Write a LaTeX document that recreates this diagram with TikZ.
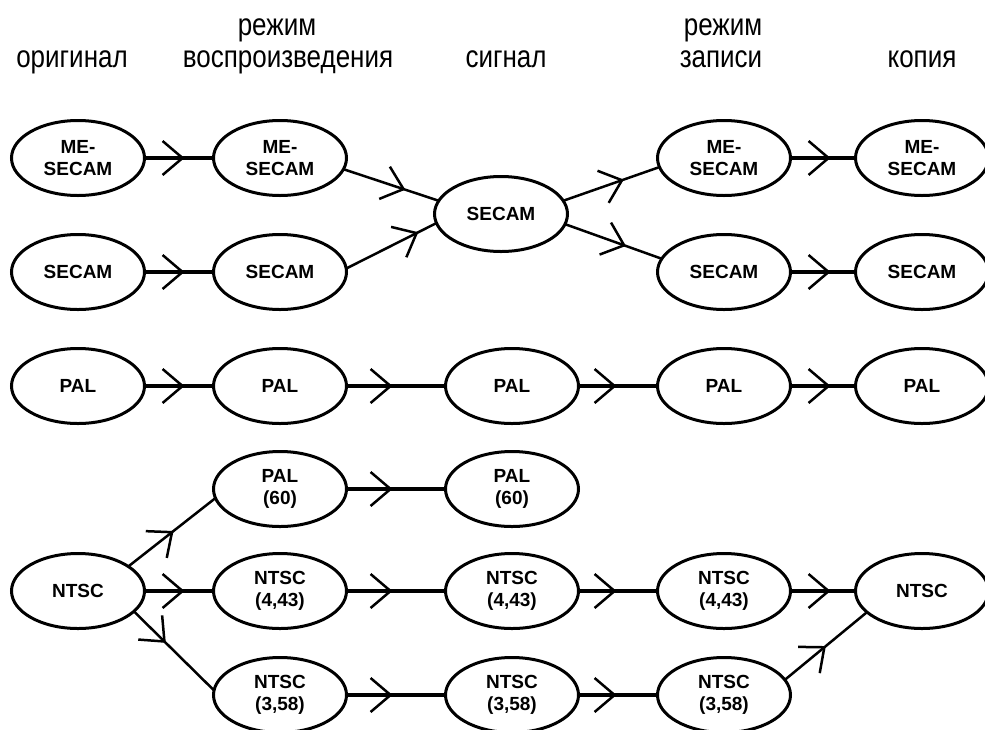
\documentclass[tikz,border=0pt]{standalone}
\usepackage{graphicx}
\usepackage{fontspec}
\setmainfont{Liberation Sans}
\usetikzlibrary{shapes.geometric,arrows.meta,decorations.markings}
\begin{document}
\begin{tikzpicture}[x=1pt,y=-1pt,
  fmt/.style={ellipse,draw,line width=3pt,minimum width=133pt,minimum height=75pt,
    inner sep=0pt,outer sep=0pt,font=\fontsize{19}{22}\selectfont\bfseries,align=center},
  hdr/.style={anchor=base,inner sep=0pt,font=\fontsize{26}{30}\selectfont},
  chev/.style={postaction={decorate},decoration={markings,
    mark=at position #1 with {\pgfsetlinewidth{2.5pt}\arrow{Straight Barb[length=20pt,width=34pt]}}}},
  hline/.style={line width=4pt,chev=#1},
  dline/.style={line width=2.5pt,chev=#1}
]
\useasboundingbox (0,0) rectangle (985,729);
% headers
\node[hdr] (h1) at (72,67) {\scalebox{1}[1.2]{оригинал}};
\node[hdr] (h2a) at (277,35) {\scalebox{1}[1.2]{режим}};
\node[hdr] (h2b) at (288,67) {\scalebox{1}[1.2]{воспроизведения}};
\node[hdr] (h3) at (506,67) {\scalebox{1}[1.2]{сигнал}};
\node[hdr] (h4a) at (723,35) {\scalebox{1}[1.2]{режим}};
\node[hdr] (h4b) at (721,67) {\scalebox{1}[1.2]{записи}};
\node[hdr] (h5) at (922,67) {\scalebox{1}[1.2]{копия}};
% row 1
\node[fmt] (m1) at (78,158) {ME-\\SECAM};
\node[fmt] (m2) at (280,158) {ME-\\SECAM};
\node[fmt] (m4) at (724,158) {ME-\\SECAM};
\node[fmt] (m5) at (922,158) {ME-\\SECAM};
% row 2
\node[fmt] (s1) at (78,272) {SECAM};
\node[fmt] (s2) at (280,272) {SECAM};
\node[fmt] (s4) at (724,272) {SECAM};
\node[fmt] (s5) at (922,272) {SECAM};
\node[fmt] (sig) at (501,214) {SECAM};
% row 3
\node[fmt] (p1) at (78,386) {PAL};
\node[fmt] (p2) at (280,386) {PAL};
\node[fmt] (p3) at (512,386) {PAL};
\node[fmt] (p4) at (724,386) {PAL};
\node[fmt] (p5) at (922,386) {PAL};
% row 4
\node[fmt] (q2) at (280,489) {PAL\\(60)};
\node[fmt] (q3) at (512,489) {PAL\\(60)};
% row 5
\node[fmt] (n1) at (78,591) {NTSC};
\node[fmt] (a2) at (280,591) {NTSC\\(4,43)};
\node[fmt] (a3) at (512,591) {NTSC\\(4,43)};
\node[fmt] (a4) at (724,591) {NTSC\\(4,43)};
\node[fmt] (n5) at (922,591) {NTSC};
% row 6
\node[fmt] (b2) at (280,695) {NTSC\\(3,58)};
\node[fmt] (b3) at (512,695) {NTSC\\(3,58)};
\node[fmt] (b4) at (724,695) {NTSC\\(3,58)};
% connectors
\draw[hline=40pt] (m1) -- (m2);
\draw[hline=40pt] (m4) -- (m5);
\draw[hline=40pt] (s1) -- (s2);
\draw[hline=40pt] (s4) -- (s5);
\draw[dline=0.65] (m2.-10) -- (sig.168);
\draw[dline=0.8] (s2.3) -- (sig.188);
\draw[dline=0.63] (sig.12) -- (m4.188);
\draw[dline=0.63] (sig.-9) -- (s4.168);
\draw[hline=40pt] (p1) -- (p2);
\draw[hline=46pt] (p2) -- (p3);
\draw[hline=38pt] (p3) -- (p4);
\draw[hline=40pt] (p4) -- (p5);
\draw[hline=46pt] (q2) -- (q3);
\draw[dline=0.52] (n1.26) -- (q2.188);
\draw[hline=40pt] (n1) -- (a2);
\draw[dline=0.4] (n1.-20) -- (b2.176);
\draw[hline=46pt] (a2) -- (a3);
\draw[hline=38pt] (a3) -- (a4);
\draw[hline=40pt] (a4) -- (n5);
\draw[hline=46pt] (b2) -- (b3);
\draw[hline=38pt] (b3) -- (b4);
\draw[dline=0.5] (b4.14) -- (n5.201);
\end{tikzpicture}
\end{document}
